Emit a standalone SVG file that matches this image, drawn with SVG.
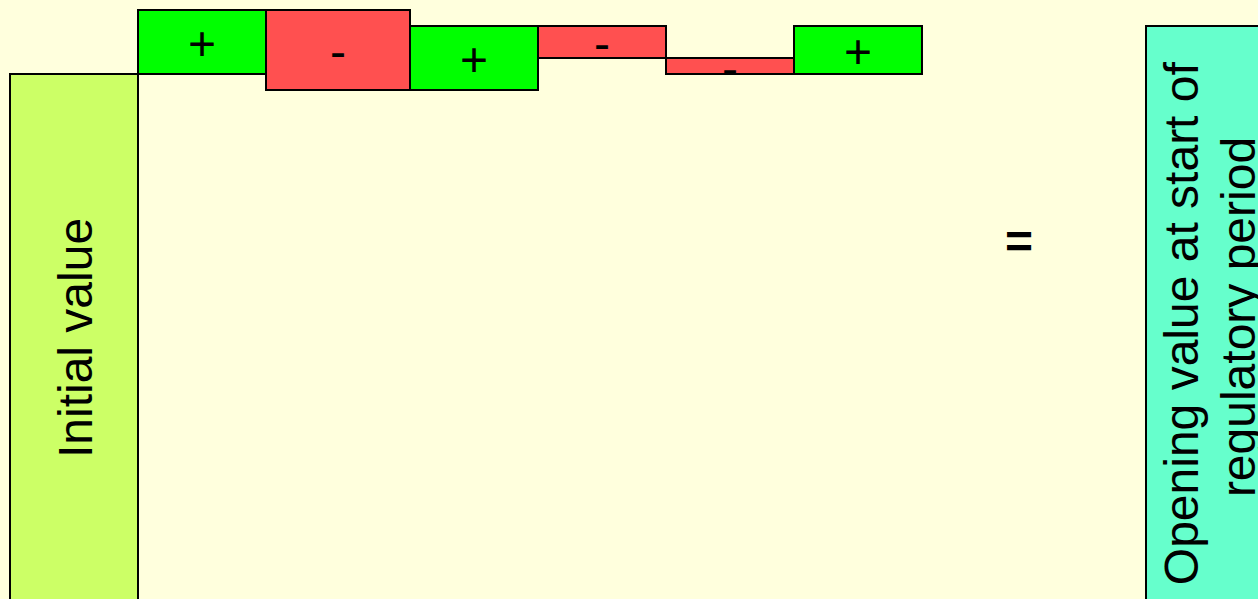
<svg xmlns="http://www.w3.org/2000/svg" width="1258" height="599" viewBox="0 0 1258 599">
  <style>
    .box { stroke: #000; stroke-width: 2; }
    .up { fill: #00FF00; }
    .down { fill: #FF5050; }
    .lbl { font-family: "Liberation Sans", Arial, sans-serif; font-size: 48px; fill: #000; text-anchor: middle; }
    .eq { font-weight: bold; }
  </style>
  <rect x="0" y="0" width="1258" height="599" fill="#FFFFDD"/>

  <g id="initial-value">
    <rect class="box" x="10" y="74" width="128" height="540" fill="#CCFF66"/>
    <text class="lbl" transform="translate(92,338) rotate(-90)" x="0" y="0" font-size="47">Initial value</text>
  </g>

  <g id="step-1">
    <rect class="box up" x="138" y="10" width="128" height="64"/>
    <text class="lbl" x="202" y="60">+</text>
  </g>
  <g id="step-2">
    <rect class="box down" x="266" y="10" width="144" height="80"/>
    <text class="lbl" x="338" y="68">-</text>
  </g>
  <g id="step-3">
    <rect class="box up" x="410" y="26" width="128" height="64"/>
    <text class="lbl" x="474" y="76">+</text>
  </g>
  <g id="step-4">
    <rect class="box down" x="538" y="26" width="128" height="32"/>
    <text class="lbl" x="602" y="60">-</text>
  </g>
  <g id="step-5">
    <rect class="box down" x="666" y="58" width="128" height="16"/>
    <text class="lbl" x="730" y="85">-</text>
  </g>
  <g id="step-6">
    <rect class="box up" x="794" y="26" width="128" height="48"/>
    <text class="lbl" x="858" y="68">+</text>
  </g>

  <g id="equals">
    <text class="lbl eq" x="1019" y="258">=</text>
  </g>

  <g id="opening-value">
    <rect class="box" x="1146" y="26" width="130" height="600" fill="#66FFCC"/>
    <text class="lbl" transform="translate(1198,317) rotate(-90)">
      <tspan x="0" y="0">Opening value at start of</tspan>
      <tspan x="0" y="57">regulatory period</tspan>
    </text>
  </g>

  <g id="connectors"/>
</svg>
